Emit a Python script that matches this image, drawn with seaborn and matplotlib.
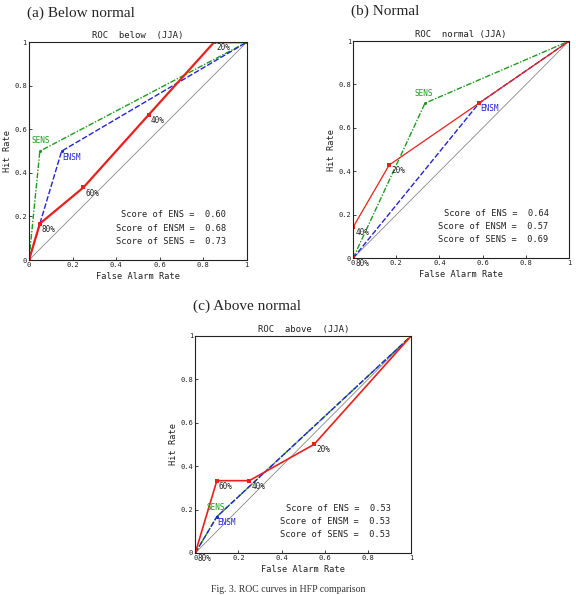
import numpy as np
import pandas as pd
import seaborn as sns
import matplotlib
matplotlib.use("Agg")
import matplotlib.pyplot as plt

sns.set_style("white")
plt.rcParams['font.family'] = ['DejaVu Sans Mono']

# ---- data ----
panel_tags = ["(a) Below normal", "(b) Normal", "(c) Above normal"]
panel_titles = ["ROC  below  (JJA)", "ROC  normal (JJA)", "ROC  above  (JJA)"]

ens_far = [[0, 0.05, 0.25, 0.55, 0.85, 1.0],
           [0, 0.0, 0.167, 0.583, 1.0],
           [0, 0.10, 0.25, 0.55, 1.0]]
ens_hr = [[0, 0.167, 0.333, 0.667, 1.0, 1.0],
          [0, 0.143, 0.429, 0.714, 1.0],
          [0, 0.333, 0.333, 0.50, 1.0]]
ens_pct = [[None, "80%", "60%", "40%", "20%", None],
           ["80%", "40%", "20%", None, None],
           ["80%", "60%", "40%", "20%", None]]

ensm_far = [[0, 0.15, 1.0], [0, 0.583, 1.0], [0, 0.10, 1.0]]
ensm_hr = [[0, 0.50, 1.0], [0, 0.714, 1.0], [0, 0.167, 1.0]]
sens_far = [[0, 0.05, 1.0], [0, 0.333, 1.0], [0, 0.10, 1.0]]
sens_hr = [[0, 0.50, 1.0], [0, 0.714, 1.0], [0, 0.167, 1.0]]

score_ens = [0.60, 0.64, 0.53]
score_ensm = [0.68, 0.57, 0.53]
score_sens = [0.73, 0.69, 0.53]

# where the series names sit (data units)
sens_lab = [(0.012, 0.55), (0.285, 0.76), (0.05, 0.21)]
ensm_lab = [(0.155, 0.47), (0.59, 0.69), (0.10, 0.14)]

RED = "#e8201c"
BLUE = "#2323d8"
GREEN = "#1e9a1e"

fig = plt.figure(figsize=(5.76, 5.95), dpi=100)
boxes = [[0.0503, 0.563, 0.378, 0.366],
         [0.613, 0.566, 0.375, 0.365],
         [0.339, 0.0706, 0.375, 0.365]]
ens_lw = [1.6, 0.9, 1.2]

for i, box in enumerate(boxes):
    ax = fig.add_axes(box)
    ax.plot([0, 1], [0, 1], color="#888888", lw=0.6)

    sens = pd.DataFrame({"x": sens_far[i], "y": sens_hr[i]})
    sns.lineplot(data=sens, x="x", y="y", sort=False, estimator=None, ax=ax,
                 color=GREEN, lw=1.0, linestyle=(0, (4, 1.2, 1, 1.2)),
                 marker="o", markersize=2.2, markeredgewidth=0)
    ensm = pd.DataFrame({"x": ensm_far[i], "y": ensm_hr[i]})
    sns.lineplot(data=ensm, x="x", y="y", sort=False, estimator=None, ax=ax,
                 color=BLUE, lw=1.0, linestyle=(0, (4, 1.5)),
                 marker="o", markersize=2.2, markeredgewidth=0)
    ens = pd.DataFrame({"x": ens_far[i], "y": ens_hr[i]})
    sns.lineplot(data=ens, x="x", y="y", sort=False, estimator=None, ax=ax,
                 color=RED, lw=ens_lw[i], marker="s", markersize=3.2,
                 markeredgewidth=0)

    for xv, yv, lab in zip(ens_far[i], ens_hr[i], ens_pct[i]):
        if lab:
            ax.annotate(lab, (xv, yv), xytext=(1.5, -4), textcoords="offset points",
                        ha="left", va="center", fontsize=5.5, color="#222222",
                        annotation_clip=False)

    ax.text(*sens_lab[i], "SENS", color=GREEN, fontsize=5.5, ha="left", va="center")
    ax.text(*ensm_lab[i], "ENSM", color=BLUE, fontsize=5.5, ha="left", va="center")

    lines = [f"Score of ENS =  {score_ens[i]:.2f}",
             f"Score of ENSM =  {score_ensm[i]:.2f}",
             f"Score of SENS =  {score_sens[i]:.2f}"]
    for k, s in enumerate(lines):
        ax.text(0.905, 0.207 - 0.06 * k, s, transform=ax.transAxes,
                ha="right", va="center", fontsize=6.2, color="#222222")

    ax.set_xlim(0, 1)
    ax.set_ylim(0, 1)
    ax.set_xticks([0, 0.2, 0.4, 0.6, 0.8, 1])
    ax.set_yticks([0, 0.2, 0.4, 0.6, 0.8, 1])
    ax.set_xticklabels(["0", "0.2", "0.4", "0.6", "0.8", "1"])
    ax.set_yticklabels(["0", "0.2", "0.4", "0.6", "0.8", "1"])
    ax.tick_params(direction="in", length=2.5, width=0.6, labelsize=5,
                   pad=1.5, colors="#222222", bottom=True, left=True)
    for sp in ax.spines.values():
        sp.set_color("#222222")
        sp.set_linewidth(0.8)
    ax.set_xlabel("False Alarm Rate", fontsize=6.2, labelpad=3, color="#222222")
    ax.set_ylabel("Hit Rate", fontsize=6.2, labelpad=1.5, color="#222222")
    ax.set_title(panel_titles[i], fontsize=6.5, pad=3, color="#222222")

    fig.text(box[0] - 0.004, box[1] + box[3] + 0.038, panel_tags[i],
             family="Liberation Serif", fontsize=11, ha="left", va="bottom")

fig.text(0.5, 0.002, "Fig. 3. ROC curves in HFP comparison", family="Liberation Serif",
         fontsize=7, ha="center", va="bottom", color="#333333")

fig.savefig("out.png", dpi=100)
